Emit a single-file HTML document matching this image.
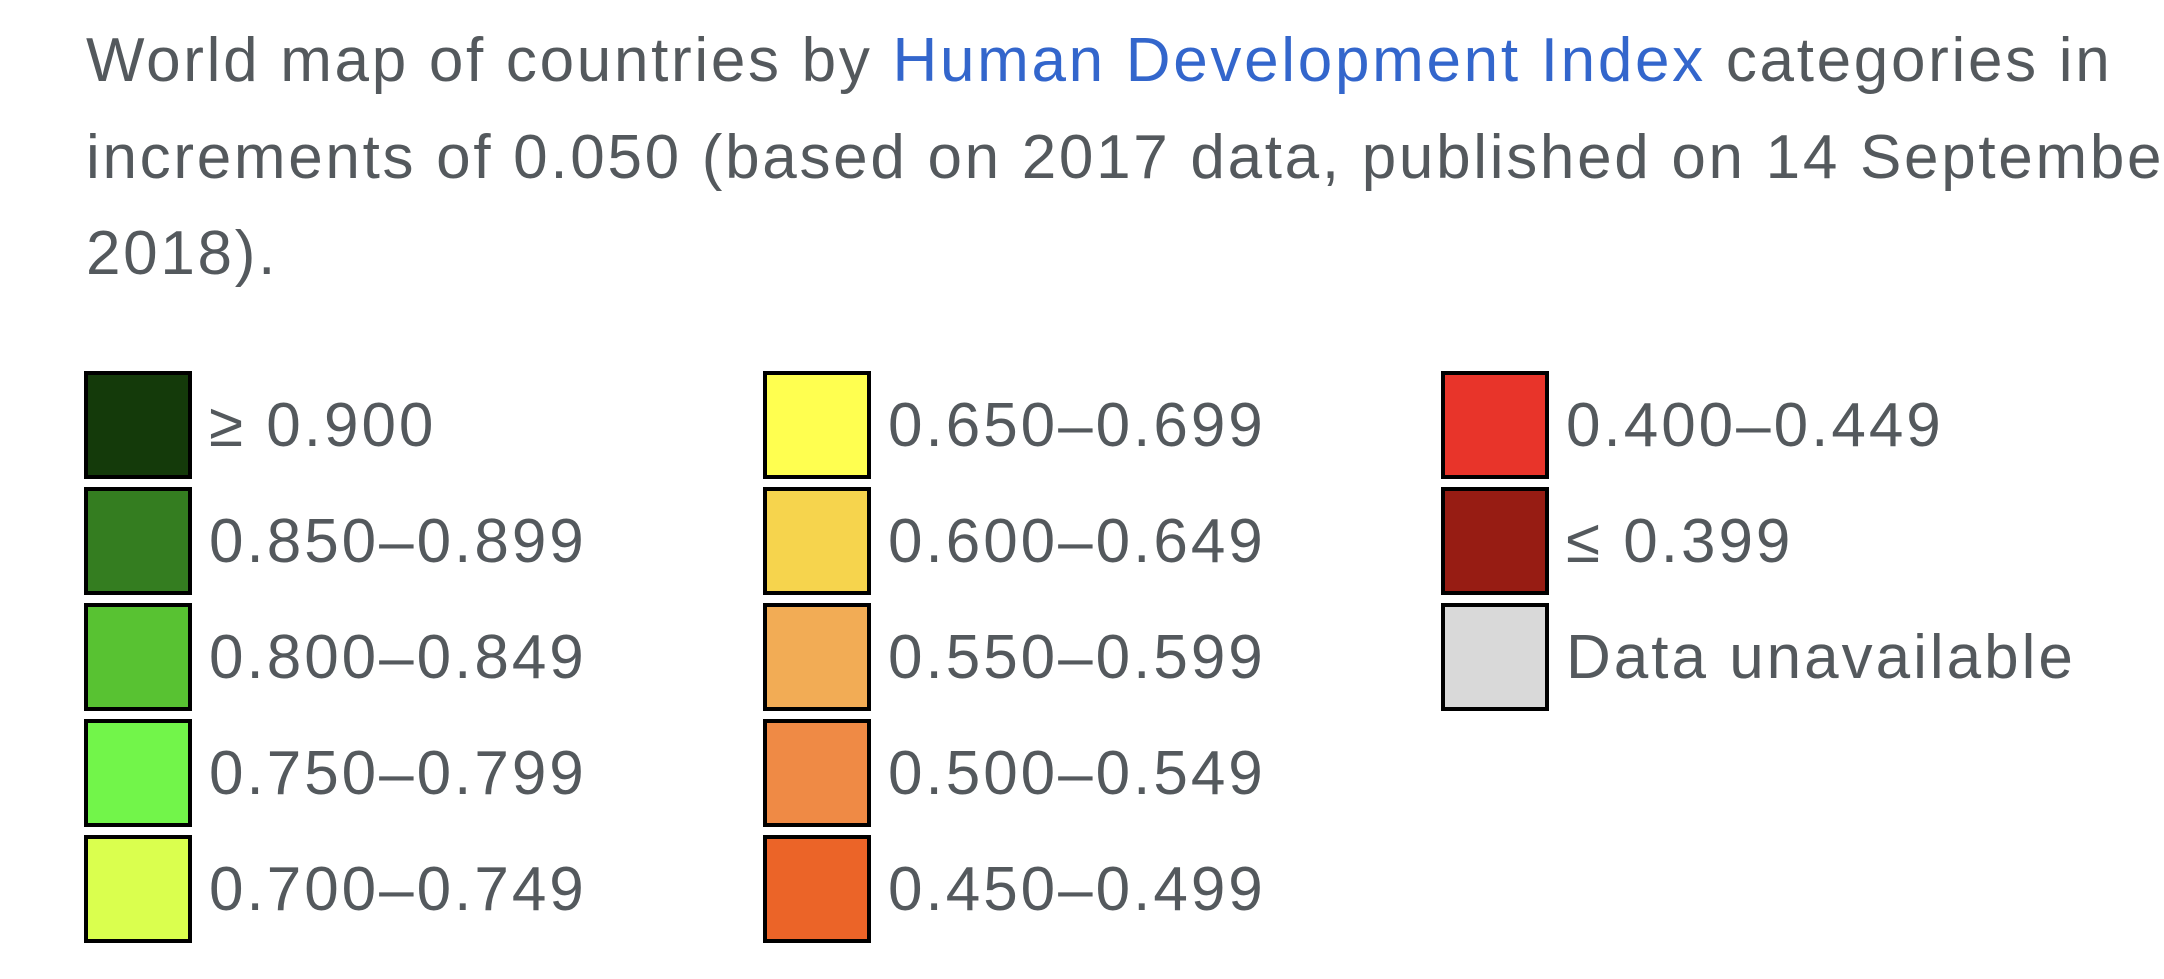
<!DOCTYPE html>
<html><head><meta charset="utf-8">
<style>
html,body{margin:0;padding:0;background:#fff;width:2164px;height:979px;overflow:hidden;}
body{position:relative;font-family:"Liberation Sans",sans-serif;color:#54595d;}
.t{position:absolute;left:86px;font-size:62px;line-height:62px;white-space:nowrap;letter-spacing:2.7px;}
a{color:#3366cc;text-decoration:none;}
.sw{position:absolute;width:100px;height:100px;border:4px solid #000;box-sizing:content-box;}
.lb{position:absolute;font-size:62px;line-height:62px;white-space:nowrap;letter-spacing:3px;}
</style></head>
<body>
<div class="t" style="top:30px">World map of countries by <a href="#">Human Development Index</a> categories in</div>
<div class="t" style="top:127px">increments of 0.050 (based on 2017 data, published on 14 September</div>
<div class="t" style="top:223px">2018).</div>
<div id="legend"></div>
<script>
const labels = ["≥ 0.900","0.850–0.899","0.800–0.849","0.750–0.799","0.700–0.749","0.650–0.699","0.600–0.649","0.550–0.599","0.500–0.549","0.450–0.499","0.400–0.449","≤ 0.399","Data unavailable"];
const colors = ["#143a0a","#347d20","#58c232","#72f54a","#daff4e","#ffff50","#f6d44d","#f2ac55","#ef8a45","#eb6428","#e8342a","#971c13","#d9d9d9"];
const colX = [84, 763, 1441];
const legend = document.getElementById('legend');
labels.forEach((lab, i) => {
  const col = Math.floor(i / 5), row = i % 5;
  const sw = document.createElement('div');
  sw.className = 'sw';
  sw.style.left = colX[col] + 'px';
  sw.style.top = (371 + row * 116) + 'px';
  sw.style.background = colors[i];
  
  
  legend.appendChild(sw);
  const lb = document.createElement('div');
  lb.className = 'lb';
  lb.style.left = (colX[col] + 125) + 'px';
  lb.style.top = (395 + row * 116) + 'px';
  lb.textContent = lab;
  
  
  legend.appendChild(lb);
});
</script>
</body></html>
